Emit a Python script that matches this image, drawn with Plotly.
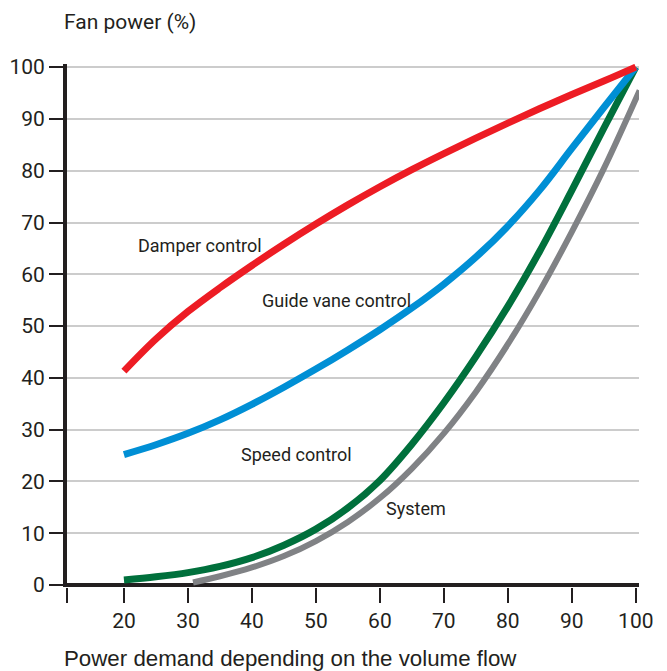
import plotly.graph_objects as go

# Volume flow (%) vs fan power (%)
flow = [20, 25, 30, 35, 40, 45, 50, 55, 60, 65, 70, 75, 80, 85, 90, 95, 100]
damper = [41.3, 47.5, 52.8, 57.4, 61.7, 65.8, 69.7, 73.4, 76.9, 80.2, 83.3, 86.3, 89.2, 92.0, 94.7, 97.3, 100]
guide_vane = [25.2, 27.1, 29.3, 31.9, 34.9, 38.2, 41.7, 45.4, 49.3, 53.5, 58.1, 63.3, 69.3, 76.3, 84.3, 92.2, 100]
speed = [1, 1.6, 2.4, 3.6, 5.3, 7.7, 10.8, 14.9, 20.2, 27.2, 35.2, 44.1, 53.8, 64.5, 76.2, 88.2, 100]

system_flow = [30.8, 35, 40, 45, 50, 55, 60, 65, 70, 75, 80, 85, 90, 95, 100.6]
system = [0.5, 1.7, 3.4, 5.6, 8.5, 12.2, 16.8, 22.5, 29.3, 37.3, 46.5, 56.8, 68.2, 80.4, 95.5]

x_ticks = [11.1, 20, 30, 40, 50, 60, 70, 80, 90, 100]
x_ticktext = ['', '20', '30', '40', '50', '60', '70', '80', '90', '100']
y_ticks = [0, 10, 20, 30, 40, 50, 60, 70, 80, 90, 100]

labels = ['Damper control', 'Guide vane control', 'Speed control', 'System']
label_x = [31.9, 53.2, 47.0, 65.7]
label_y = [65.6, 55.0, 25.3, 14.7]

ink = '#231f20'

fig = go.Figure([
    go.Scatter(x=system_flow, y=system, mode='lines', name='System',
               line={'color': '#808285', 'width': 6, 'shape': 'spline'}),
    go.Scatter(x=flow, y=speed, mode='lines', name='Speed control',
               line={'color': '#00703c', 'width': 7, 'shape': 'spline'}),
    go.Scatter(x=flow, y=guide_vane, mode='lines', name='Guide vane control',
               line={'color': '#008fd5', 'width': 7, 'shape': 'spline'}),
    go.Scatter(x=flow, y=damper, mode='lines', name='Damper control',
               line={'color': '#ed1c24', 'width': 7, 'shape': 'spline'}),
])

for text, lx, ly in zip(labels, label_x, label_y):
    fig.add_annotation(x=lx, y=ly, text=text, showarrow=False,
                       font=dict(family='Roboto', size=18, color=ink))

fig.add_annotation(xref='paper', yref='paper', x=-0.0087, y=1.080, text='Fan power (%)',
                   showarrow=False, xanchor='left', yanchor='middle',
                   font=dict(family='Roboto', size=21, color=ink))
fig.add_annotation(xref='paper', yref='paper', x=-0.0087, y=-0.136,
                   text='Power demand depending on the volume flow',
                   showarrow=False, xanchor='left', yanchor='middle',
                   font=dict(family='Liberation Sans, Arial', size=22.3, color=ink))

# page has an 8px body margin, so the figure is sized 8px smaller
fig.update_layout(
    width=659, height=663,
    showlegend=False,
    plot_bgcolor='white',
    paper_bgcolor='white',
    margin=dict(l=59, r=28, t=56, b=84),
    font=dict(family='Roboto', size=21, color=ink),
    xaxis=dict(
        range=[11.1, 100.5],
        tickvals=x_ticks, ticktext=x_ticktext,
        showgrid=False, zeroline=False, showline=False,
        ticks='outside', ticklen=15, tickwidth=2, tickcolor=ink,
        tickfont=dict(family='Roboto', size=21, color=ink),
        automargin=False,
    ),
    yaxis=dict(
        range=[-0.37, 100.6],
        tickvals=y_ticks,
        showgrid=True, gridcolor='#cccccc', gridwidth=1.5,
        zeroline=True, zerolinecolor=ink, zerolinewidth=4,
        showline=True, linecolor=ink, linewidth=4,
        ticks='outside', ticklen=14, tickwidth=2, tickcolor=ink,
        tickfont=dict(family='Roboto', size=21, color=ink),
        automargin=False,
    ),
)

fig.write_html("out.html")
